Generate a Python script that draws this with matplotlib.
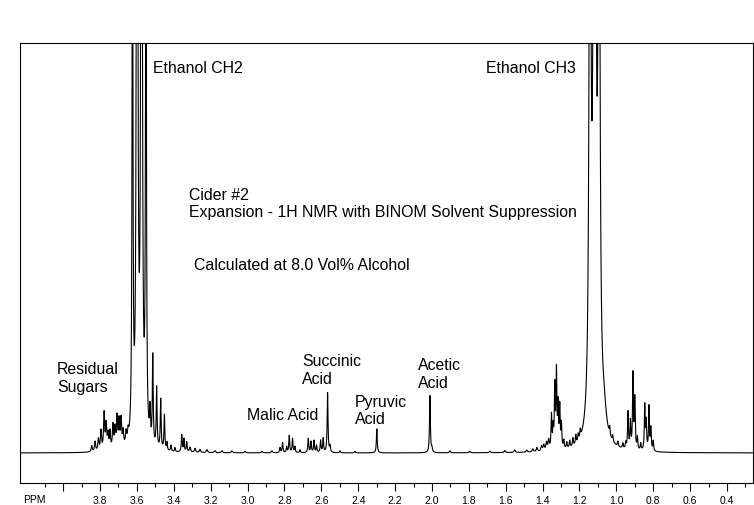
import numpy as np
import matplotlib
matplotlib.use("Agg")
import matplotlib.pyplot as plt
from matplotlib.ticker import FixedLocator, FixedFormatter

# ---- data (ppm, height above baseline) ----
sugars_ppm = [3.845, 3.827, 3.809, 3.795, 3.778, 3.767, 3.757, 3.746, 3.730, 3.719,
              3.708, 3.697, 3.686, 3.675, 3.659, 3.648]
sugars_h = [6, 10, 12, 20, 37, 25, 15, 18, 24, 20, 31, 27, 28, 15, 12, 10]

ch2_ppm = [3.624, 3.599, 3.575, 3.551]          # ethanol CH2 quartet
ch2_h = [600, 1800, 1800, 600]

glyc_ppm = [3.529, 3.514, 3.493, 3.471, 3.451, 3.437, 3.415, 3.394,
            3.357, 3.345, 3.330]
glyc_h = [30, 89, 60, 50, 35, 8, 6, 4, 17, 13, 10]

noise1_ppm = [3.312, 3.285, 3.258, 3.220, 3.177, 3.139, 3.085, 3.014, 2.922, 2.868]
noise1_h = [5, 4, 3, 3, 2, 2, 2, 1.5, 1.5, 2]

malic_ppm = [2.824, 2.810, 2.788, 2.774, 2.756, 2.743, 2.716,
             2.671, 2.656, 2.640, 2.626, 2.604, 2.590]
malic_h = [5, 10, 6, 17, 14, 6, 3, 14, 11, 12, 7, 12, 14]

acids_ppm = [2.566, 2.553, 2.499, 2.418, 2.299, 2.011, 2.000]   # succinic, pyruvic, acetic
acids_h = [60, 6, 2, 1.5, 24, 57, 4]

noise2_ppm = [1.903, 1.795, 1.686, 1.605, 1.551, 1.486, 1.453, 1.431, 1.406, 1.394,
              1.379, 1.367]
noise2_h = [2, 1.5, 1.5, 2, 2.5, 2, 3, 4, 5, 6, 8, 10]

lactate_ppm = [1.352, 1.343, 1.334, 1.325, 1.316, 1.307, 1.298, 1.285, 1.269, 1.253,
               1.236, 1.220, 1.207, 1.196]
lactate_h = [34, 20, 61, 76, 42, 41, 24, 8, 6, 7, 8, 9, 7, 8]

ch3_ppm = [1.143, 1.118, 1.094]                # ethanol CH3 triplet
ch3_h = [700, 1400, 700]
ch3_broad_ppm = [1.068]
ch3_broad_h = [25]

alc_ppm = [1.036, 1.020, 0.992, 0.965, 0.949, 0.937, 0.924, 0.910, 0.900, 0.886,
           0.868, 0.846, 0.838, 0.823, 0.813, 0.800]
alc_h = [8, 6, 5, 5, 6, 37, 27, 75, 50, 12, 7, 45, 28, 44, 22, 10]

# axis ticks
major_ticks = [4.0, 3.8, 3.6, 3.4, 3.2, 3.0, 2.8, 2.6, 2.4, 2.2, 2.0, 1.8, 1.6, 1.4,
               1.2, 1.0, 0.8, 0.6, 0.4]
major_labels = ["", "3.8", "3.6", "3.4", "3.2", "3.0", "2.8", "2.6", "2.4", "2.2",
                "2.0", "1.8", "1.6", "1.4", "1.2", "1.0", "0.8", "0.6", "0.4"]
minor_ticks = [4.1, 3.9, 3.7, 3.5, 3.3, 3.1, 2.9, 2.7, 2.5, 2.3, 2.1, 1.9, 1.7, 1.5,
               1.3, 1.1, 0.9, 0.7, 0.5, 0.3]

# ---- build spectrum from Lorentzian lines ----
SHARP = 0.0027
groups = [
    (sugars_ppm, sugars_h, 0.0035),
    (ch2_ppm, ch2_h, SHARP),
    (glyc_ppm, glyc_h, SHARP),
    (noise1_ppm, noise1_h, 0.004),
    (malic_ppm, malic_h, SHARP),
    (acids_ppm, acids_h, SHARP),
    (noise2_ppm, noise2_h, 0.004),
    (lactate_ppm, lactate_h, SHARP),
    (ch3_ppm, ch3_h, 0.0054),
    (ch3_broad_ppm, ch3_broad_h, 0.0163),
    (alc_ppm, alc_h, SHARP),
]

xmin, xmax = 4.234, 0.259
x = np.linspace(xmin, xmax, 30000)
y = np.zeros_like(x)
for ppms, hs, w in groups:
    for p, h in zip(ppms, hs):
        y += h * w**2 / ((x - p) ** 2 + w**2)

# ---- figure ----
W, H = 754, 506
fig = plt.figure(figsize=(W / 100, H / 100), dpi=100)
ax = fig.add_axes([20 / W, 1 - 484 / H, (753 - 20) / W, (484 - 44) / H])
ax.plot(x, y, color="black", lw=0.8)
ax.set_xlim(xmin, xmax)
ax.set_ylim(-30, 410)

for s in ax.spines.values():
    s.set_linewidth(0.8)
    s.set_color("black")

ax.xaxis.set_major_locator(FixedLocator(major_ticks))
ax.xaxis.set_major_formatter(FixedFormatter(major_labels))
ax.xaxis.set_minor_locator(FixedLocator(minor_ticks))
ax.tick_params(axis="x", which="major", direction="out", length=5.8, width=0.8,
               pad=3, labelsize=7.5, colors="black")
ax.tick_params(axis="x", which="minor", direction="out", length=2.9, width=0.8)
ax.set_yticks([])
for lab in ax.get_xticklabels():
    lab.set_fontfamily("Liberation Sans")

font = dict(family="Liberation Sans", fontsize=11.4, color="black",
            ha="left", va="baseline")

def ftext(px, py, s, **kw):
    d = dict(font)
    d.update(kw)
    fig.text(px / W, 1 - py / H, s, **d)

ftext(153, 73.5, "Ethanol CH2")
ftext(486, 73.5, "Ethanol CH3")
ftext(189, 199.5, "Cider #2")
ftext(189, 217.5, "Expansion - 1H NMR with BINOM Solvent Suppression")
ftext(194, 270.5, "Calculated at 8.0 Vol% Alcohol")
ftext(57, 374.5, "Residual")
ftext(57, 392.5, "Sugars")
ftext(302, 366.5, "Succinic")
ftext(302, 384.5, "Acid")
ftext(247, 420.5, "Malic Acid")
ftext(355, 406.5, "Pyruvic")
ftext(355, 424.5, "Acid")
ftext(418, 369.5, "Acetic")
ftext(418, 387.5, "Acid")
ftext(23, 503.5, "PPM", fontsize=7.5)

fig.savefig("out.png", dpi=100, facecolor="white")
